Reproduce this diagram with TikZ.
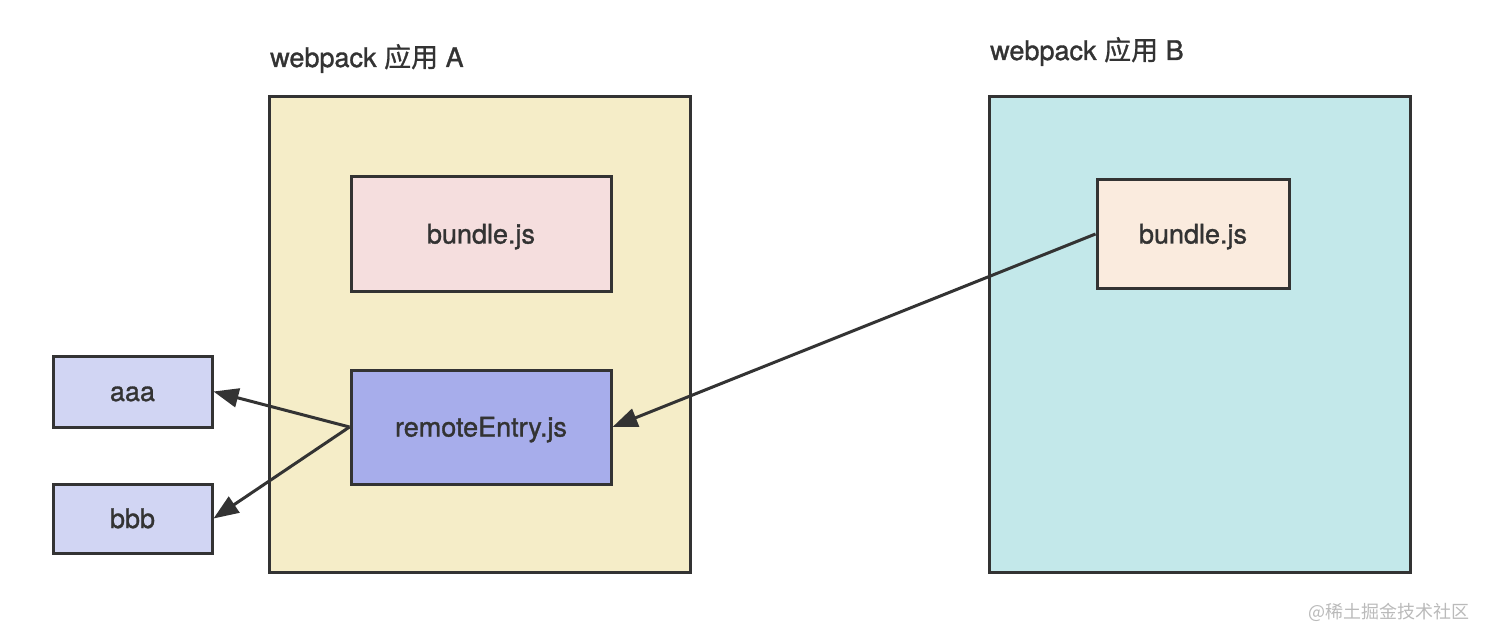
\documentclass[tikz,border=0pt]{standalone}
\usepackage{fontspec}
\setmainfont{TeX Gyre Heros}
\newfontfamily\medfont[FakeBold=1.2]{TeX Gyre Heros}
\newfontfamily\cjk[FakeBold=0.8]{Noto Sans CJK SC}
\newfontfamily\cjkwm{Noto Sans CJK SC}
\usetikzlibrary{arrows.meta}
\definecolor{edge}{HTML}{333333}
\definecolor{yelbg}{HTML}{F5EDC8}
\definecolor{cyanbg}{HTML}{C3E8EA}
\definecolor{pinkbg}{HTML}{F5DEDE}
\definecolor{bluebg}{HTML}{A7ADEB}
\definecolor{peachbg}{HTML}{FAEBDE}
\definecolor{lilacbg}{HTML}{D1D5F3}
\tikzset{
  boxstyle/.style={draw=edge, line width=3pt, inner sep=0pt, text=edge, text height=19pt, text depth=0pt, font=\medfont\fontsize{27}{31}\selectfont},
  titlestyle/.style={text=edge, anchor=base west, inner sep=0pt, font=\medfont\fontsize{27}{31}\selectfont},
  conn/.style={draw=edge, line width=3pt, -{Triangle[length=25pt,width=19pt]}},
}
\begin{document}
\begin{tikzpicture}[x=1pt,y=-1pt]
\useasboundingbox (0,0) rectangle (1490,644);
% containers
\node[boxstyle, fill=yelbg, minimum width=421pt, minimum height=475pt] (appA) at (479.5,334.5) {};
\node[boxstyle, fill=cyanbg, minimum width=421pt, minimum height=475pt] (appB) at (1199.5,334.5) {};
% titles
\node[titlestyle] (titleA) at (270,67) {webpack {\cjk 应用} A};
\node[titlestyle] (titleB) at (990,60) {webpack {\cjk 应用} B};
% inner boxes
\node[boxstyle, fill=pinkbg, minimum width=260pt, minimum height=114pt] (bundleA) at (481,234) {bundle.js};
\node[boxstyle, fill=bluebg, minimum width=260pt, minimum height=114pt] (remote) at (481,427) {remoteEntry.js};
\node[boxstyle, fill=peachbg, minimum width=192pt, minimum height=108pt] (bundleB) at (1193,234) {bundle.js};
\node[boxstyle, fill=lilacbg, minimum width=159pt, minimum height=71pt] (aaa) at (132.5,391.5) {aaa};
\node[boxstyle, fill=lilacbg, minimum width=159pt, minimum height=69pt] (bbb) at (132.5,518.5) {bbb};
% connectors
\draw[conn] (remote.west) -- (aaa.east);
\draw[conn] (remote.west) -- (bbb.east);
\draw[conn] (bundleB.west) -- (remote.east);
% watermark
\node[anchor=east, inner sep=0pt, text=black!27, font=\cjkwm\fontsize{18}{21}\selectfont] (wm) at (1470,612) {@稀土掘金技术社区};
\end{tikzpicture}
\end{document}
